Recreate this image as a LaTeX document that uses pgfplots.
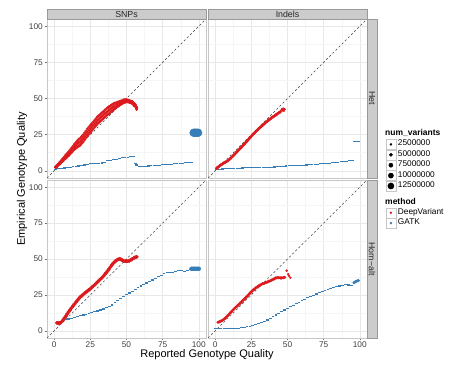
\documentclass[border=0pt]{standalone}
\usepackage{fontspec}
\setmainfont{Liberation Sans}
\usepackage{pgfplots}
\pgfplotsset{compat=1.18}
\usepackage{pgfplotstable}
\definecolor{dvred}{HTML}{DC1A1E}
\definecolor{gblue}{HTML}{377EB8}

\pgfplotstableread{
x lo mid hi
1 2.2 2.5 2.8
2 3.1 3.5 3.9
3 4.0 4.5 5.0
4 4.9 5.5 6.1
5 5.8 6.5 7.2
6 6.8 7.6 8.4
7 7.8 8.7 9.6
8 8.7 9.8 10.9
9 9.6 10.8 12.0
10 10.5 11.8 13.1
11 11.6 13.0 14.4
12 12.7 14.2 15.7
13 13.8 15.4 17.0
14 14.8 16.6 18.4
15 15.6 17.6 19.6
16 16.4 18.6 20.8
17 17.0 19.4 21.8
18 17.8 20.2 22.6
19 18.9 21.3 23.7
20 20.0 22.4 24.8
21 21.4 23.8 26.2
22 22.8 25.2 27.6
23 24.2 26.6 29.0
24 25.4 27.8 30.2
25 26.6 29.0 31.4
26 27.8 30.2 32.6
27 29.0 31.4 33.8
28 30.2 32.6 35.0
29 31.4 33.8 36.2
30 32.6 35.0 37.4
31 33.5 35.9 38.3
32 34.4 36.8 39.2
33 35.3 37.7 40.1
34 36.2 38.6 41.0
35 37.1 39.5 41.9
36 38.0 40.4 42.8
37 38.8 41.2 43.6
38 39.6 42.0 44.4
39 40.5 42.8 45.1
40 41.4 43.6 45.8
41 42.2 44.3 46.4
42 43.0 44.9 46.8
43 43.8 45.5 47.2
44 44.5 46.0 47.5
45 45.1 46.5 47.9
46 45.8 47.0 48.2
47 46.4 47.5 48.6
48 47.0 48.0 49.0
49 47.4 48.3 49.2
50 47.7 48.5 49.3
51 47.5 48.2 48.9
52 47.3 48.0 48.7
53 47.0 47.6 48.2
54 46.7 47.3 47.9
55 46.0 46.5 47.0
56 45.0 45.5 46.0
57 43.0 43.5 44.0
}\dvSnpHet

\pgfplotstableread{
x y
1 1.0
3 1.3
5 1.6
7 1.9
9 2.2
11 2.5
13 2.8
15 3.0
17 3.3
19 3.6
21 4.0
23 4.5
25 4.8
27 5.0
29 5.0
31 5.1
33 5.4
35 6.0
37 6.8
39 7.4
41 7.8
43 7.6
45 8.2
47 9.0
49 9.4
51 9.2
53 9.6
55 10.0
56 5.3
57 4.0
59 3.0
61 2.9
63 3.1
65 3.3
67 3.5
69 3.6
71 3.8
73 3.9
75 4.1
77 4.3
79 4.5
81 4.6
83 4.8
85 4.9
87 5.1
89 5.3
91 5.5
93 5.6
95 5.8
}\gkSnpHet

\pgfplotstableread{
x y
1 1.8
2 2.6
3 3.4
4 4.1
5 4.8
6 5.4
7 5.9
8 6.5
9 7.2
10 8.0
11 9.0
12 10.0
13 11.0
14 12.0
15 13.1
16 14.2
17 15.2
18 16.2
19 17.3
20 18.4
21 19.5
22 20.6
23 21.7
24 22.8
25 23.9
26 25.0
27 26.0
28 27.0
29 28.0
30 29.0
31 29.9
32 30.8
33 31.7
34 32.6
35 33.5
36 34.3
37 35.1
38 35.9
39 36.6
40 37.3
41 38.0
42 38.7
43 39.4
44 40.1
45 40.8
}\dvIndHet

\pgfplotstableread{
x y
1 1.0
3 1.1
5 1.2
7 1.3
9 1.4
11 1.5
13 1.6
15 1.7
17 1.8
19 1.9
21 2.0
23 2.1
25 2.2
27 2.3
29 2.4
31 2.5
33 2.5
35 2.4
37 2.4
39 2.5
41 2.6
43 2.8
45 3.0
47 3.2
49 3.3
51 3.4
53 3.4
55 3.4
57 3.6
59 3.8
61 3.9
63 4.0
65 4.1
67 4.3
69 4.5
71 4.6
73 4.8
75 4.9
77 5.1
79 5.3
81 5.5
83 5.7
85 6.0
87 6.2
89 6.4
91 6.7
93 6.9
95 7.2
}\gkIndHet

\pgfplotstableread{
x y
2 5.5
3 5.3
4 5.5
5 6.2
6 7.3
7 8.8
8 10.2
9 11.7
10 13.2
11 14.6
12 16.0
13 17.3
14 18.6
15 19.9
16 21.2
17 22.4
18 23.5
19 24.4
20 25.3
21 26.1
22 26.9
23 27.7
24 28.5
25 29.3
26 30.2
27 31.1
28 32.0
29 33.0
30 34.0
31 35.0
32 36.0
33 37.0
34 38.0
35 39.2
36 40.4
37 41.8
38 43.2
39 44.6
40 46.0
41 47.2
42 48.2
43 49.0
44 49.6
45 50.0
46 49.8
47 49.2
48 48.6
49 48.5
50 48.6
51 48.5
52 48.8
53 49.4
54 50.0
55 50.6
56 51.2
57 51.5
}\dvSnpHom

\pgfplotstableread{
x y
2 6.0
4 6.5
6 7.0
8 7.6
10 8.2
12 8.8
14 9.3
16 9.9
18 10.5
20 11.0
22 11.6
24 12.1
26 12.7
28 13.2
30 13.8
32 14.5
34 15.2
36 16.0
38 17.0
40 18.0
42 19.4
44 20.8
46 22.2
48 23.6
50 25.0
52 26.3
54 27.6
56 28.9
58 30.1
60 31.2
62 32.3
64 33.3
66 34.3
68 35.4
70 36.5
72 37.6
74 38.7
76 39.8
78 40.8
80 40.6
82 40.3
84 41.2
86 41.8
88 41.8
90 41.3
92 41.8
94 42.6
}\gkSnpHom

\pgfplotstableread{
x y
2 6.0
3 6.3
4 6.8
5 7.3
6 8.0
7 8.9
8 9.8
9 10.9
10 12.0
11 13.1
12 14.2
13 15.2
14 16.2
15 17.1
16 18.0
17 19.0
18 20.0
19 21.0
20 22.0
21 23.0
22 24.0
23 25.1
24 26.2
25 27.2
26 28.2
27 29.0
28 29.8
29 30.5
30 31.2
31 31.8
32 32.4
33 32.8
34 33.2
35 33.6
36 34.0
37 34.4
38 34.8
39 35.3
40 35.8
41 36.3
42 36.8
43 37.0
44 37.0
45 36.8
46 36.8
47 37.0
48 37.2
}\dvIndHom

\pgfplotstableread{
x y
0 1.4
2 1.4
4 1.4
6 1.4
8 1.5
10 1.5
12 1.6
14 1.7
16 1.9
18 2.1
20 2.4
22 2.8
24 3.2
26 3.8
28 4.4
30 5.0
32 5.8
34 6.6
36 7.5
38 8.6
40 9.8
42 11.0
44 12.2
46 13.4
48 14.5
50 15.6
52 16.7
54 17.8
56 18.9
58 20.0
60 21.0
62 22.0
64 23.0
66 23.9
68 24.8
70 25.6
72 26.4
74 27.1
76 27.9
78 28.6
80 29.3
82 30.0
84 30.7
86 31.2
88 31.6
90 32.0
92 31.9
94 31.8
}\gkIndHom

\pgfplotsset{
  panel/.style={
    scale only axis, width=159pt, height=158pt,
    xmin=-5, xmax=105, ymin=-5, ymax=105,
    xtick={0,25,50,75,100}, ytick={0,25,50,75,100},
    minor xtick={12.5,37.5,62.5,87.5}, minor ytick={12.5,37.5,62.5,87.5},
    grid=both,
    major grid style={black!9, line width=0.5pt},
    minor grid style={black!4, line width=0.4pt},
    axis line style={black!22, line width=0.6pt},
    tick align=outside, major tick length=2.5pt, minor tick length=0pt,
    tick style={black!55, line width=0.5pt},
    tick label style={font=\fontsize{8.3}{9}\selectfont, text=black!75},
    xticklabel style={inner sep=1pt},
    yticklabel style={inner sep=1.5pt},
    /pgf/number format/assume math mode=true,
  },
  dv/.style={only marks, mark=*, color=dvred, mark size=1.5pt, forget plot},
  gk/.style={only marks, mark=-, color=gblue, mark size=1.4pt, mark options={line width=1.1pt}, forget plot},
  diag/.style={black!75, line width=0.5pt, dash pattern=on 2.2pt off 2.2pt, forget plot},
  keybox/.style={legend image code/.code={
      \draw[black!22, fill=white] (0pt,-5pt) rectangle (10pt,5pt);
      \fill[#1] (5pt,0pt) circle (1pt);}},
  sizebox/.style={legend image code/.code={
      \draw[black!22, fill=white] (0pt,-5pt) rectangle (10pt,5pt);
      \fill[black] (5pt,0pt) circle (#1);}},
  legsty/.style={legend style={draw=none, fill=none, inner sep=0pt, row sep=0pt,
      font=\fontsize{8.3}{9}\selectfont, legend cell align=left,
      nodes={inner xsep=1.8pt, inner ysep=0pt, text height=6.5pt, text depth=3.5pt, anchor=west}}},
}

\begin{document}
\begin{tikzpicture}
\useasboundingbox (0pt,0pt) rectangle (474pt,366pt);

% ---------- SNPs / Het ----------
\begin{axis}[panel, at={(47pt,188pt)}, anchor=south west, height=159pt,
  xtick pos=right, xticklabels={}, ytick pos=left]
  \addplot[diag] coordinates {(-5,-5) (105,105)};
  \addplot[gk] table[x=x,y=y] {\gkSnpHet};
  \addplot[only marks, mark=*, color=gblue, mark size=4pt, forget plot] coordinates {(96.5,26.3) (97.5,26.3) (98.5,26.3) (99.5,26.3)};
  \addplot[dv, mark size=1.3pt] table[x=x,y=lo] {\dvSnpHet};
  \addplot[dv, mark size=1.3pt] table[x=x,y=mid] {\dvSnpHet};
  \addplot[dv, mark size=1.3pt] table[x=x,y=hi] {\dvSnpHet};
  \addplot[dv, mark size=1pt] coordinates {(55,45) (56,44.3) (57,42.3) (54,46.2)};
\end{axis}

% ---------- Indels / Het ----------
\begin{axis}[panel, at={(208pt,188pt)}, anchor=south west, height=159pt,
  xtick pos=right, xticklabels={}, ytick pos=right, yticklabels={}, legsty,
  legend style={at={(axis description cs:1.1164,0.2453)}, anchor=north west}]
  \addplot[diag] coordinates {(-5,-5) (105,105)};
  \addplot[gk] table[x=x,y=y] {\gkIndHet};
  \addplot[gk] coordinates {(96,20) (97,20) (98,20) (99,20)};
  \addplot[dv, mark size=1.5pt] table[x=x,y=y] {\dvIndHet};
  \addplot[dv, mark size=1pt] coordinates {(46,42.5) (47,43) (48,42.5) (47.5,41.5) (46.5,41.8)};
  \addlegendimage{sizebox=1.0pt}\addlegendentry{2500000}
  \addlegendimage{sizebox=1.6pt}\addlegendentry{5000000}
  \addlegendimage{sizebox=2.1pt}\addlegendentry{7500000}
  \addlegendimage{sizebox=2.6pt}\addlegendentry{10000000}
  \addlegendimage{sizebox=3.1pt}\addlegendentry{12500000}
\end{axis}

% ---------- SNPs / Hom-alt ----------
\begin{axis}[panel, at={(47pt,28pt)}, anchor=south west,
  xtick pos=left, ytick pos=left]
  \addplot[diag] coordinates {(-5,-5) (105,105)};
  \addplot[gk] table[x=x,y=y] {\gkSnpHom};
  \addplot[only marks, mark=*, color=gblue, mark size=2pt, forget plot] coordinates {(95,43.2) (96,43.2) (97,43.2) (98,43.2) (99,43.2) (100,43.2)};
  \addplot[dv, mark size=1.8pt] table[x=x,y=y] {\dvSnpHom};
\end{axis}

% ---------- Indels / Hom-alt ----------
\begin{axis}[panel, at={(208pt,28pt)}, anchor=south west,
  xtick pos=left, ytick pos=right, yticklabels={}, legsty,
  legend style={at={(axis description cs:1.1164,0.827)}, anchor=north west}]
  \addplot[diag] coordinates {(-5,-5) (105,105)};
  \addplot[gk] table[x=x,y=y] {\gkIndHom};
  \addplot[only marks, mark=*, color=gblue, mark size=1.4pt, forget plot] coordinates {(96,33.5) (97,34.2) (98,34.6) (99,35.0)};
  \addplot[dv, mark size=1.4pt] table[x=x,y=y] {\dvIndHom};
  \addplot[dv, mark size=1pt] coordinates {(49.4,41.9) (50.5,39.5) (51,38.3) (52,36.9)};
  \addlegendimage{keybox=dvred}\addlegendentry{DeepVariant}
  \addlegendimage{keybox=gblue}\addlegendentry{GATK}
\end{axis}

% ---------- strips ----------
\begin{scope}[font=\fontsize{8.8}{10}\selectfont]
  \draw[black!40, fill=black!20, line width=0.4pt] (47pt,347pt) rectangle (206pt,357pt);
  \draw[black!40, fill=black!20, line width=0.4pt] (208pt,347pt) rectangle (367pt,357pt);
  \node[text=black!85] at (126.5pt,352pt) {SNPs};
  \node[text=black!85] at (287.5pt,352pt) {Indels};
  \draw[black!40, fill=black!20, line width=0.4pt] (367pt,188pt) rectangle (377pt,347pt);
  \draw[black!40, fill=black!20, line width=0.4pt] (367pt,28pt) rectangle (377pt,186pt);
  \node[text=black!85, rotate=-90] at (372pt,267.5pt) {Het};
  \node[text=black!85, rotate=-90] at (372pt,107pt) {Hom\textminus alt};
\end{scope}

% ---------- axis titles ----------
\node[font=\fontsize{11}{13}\selectfont] at (207pt,11pt) {Reported Genotype Quality};
\node[font=\fontsize{11}{13}\selectfont, rotate=90] at (22pt,187pt) {Empirical Genotype Quality};

% ---------- legend titles ----------
\node[font=\bfseries\fontsize{8.5}{10}\selectfont, anchor=west, inner sep=0pt] at (385pt,233pt) {num\_variants};
\node[font=\bfseries\fontsize{8.5}{10}\selectfont, anchor=west, inner sep=0pt] at (385pt,164.3pt) {method};
\end{tikzpicture}
\end{document}
